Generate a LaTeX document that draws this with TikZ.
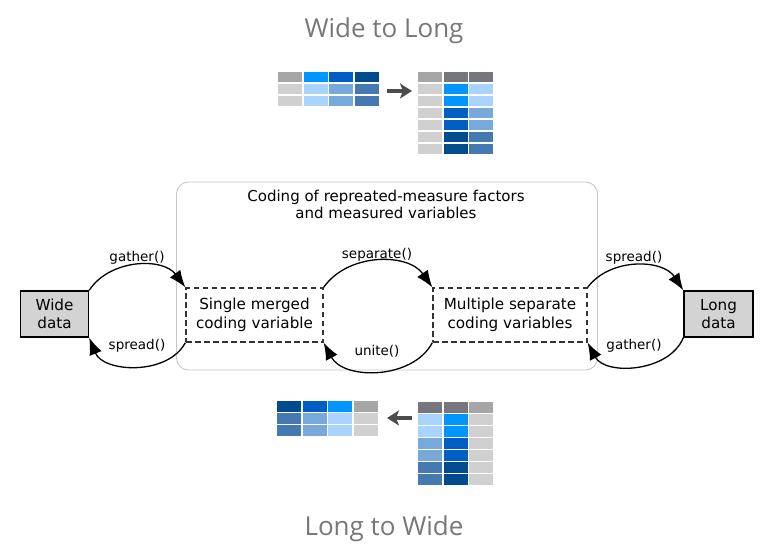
\documentclass[tikz,border=0pt]{standalone}
\usepackage{fontspec}
\setmainfont{DejaVu Sans}
\newfontfamily\titlefont{Open Sans}
\usetikzlibrary{arrows.meta}
\definecolor{hg}{HTML}{A6A6A6}
\definecolor{hd}{HTML}{76767E}
\definecolor{lg}{HTML}{D0D0D0}
\definecolor{bA}{HTML}{0095FF}
\definecolor{bB}{HTML}{005EC4}
\definecolor{bC}{HTML}{004B8D}
\definecolor{lA}{HTML}{A8D4FF}
\definecolor{lB}{HTML}{77A9DB}
\definecolor{lC}{HTML}{4479B1}
\definecolor{titlegray}{HTML}{777777}
\definecolor{boxgray}{HTML}{D3D3D3}
\newcommand\tabrow[3]{\foreach \c [count=\i from 0] in {#3} {\fill[\c] (#1+\i*25.5,#2) rectangle ++(24,10.5);}}
\begin{document}
\begin{tikzpicture}[x=1pt,y=-1pt,
  datanode/.style={draw=black, line width=1.4pt, fill=boxgray, minimum width=68pt, minimum height=46pt, inner sep=0pt, align=center, font=\fontsize{15.2}{18.5}\selectfont},
  codenode/.style={draw=black!80, dash pattern=on 5.5pt off 3.5pt, line width=1.3pt, minimum height=54pt, inner sep=0pt, align=center, font=\fontsize{15.2}{18.5}\selectfont},
  flow/.style={line width=1.3pt, -{Latex[length=17pt,width=13pt]}},
  fnlabel/.style={font=\fontsize{13.5}{16}\selectfont, inner sep=0pt},
  tabarrow/.style={line width=3.5pt, draw=black!70, -{Stealth[length=12pt,width=15pt,inset=3pt]}},
  title/.style={font=\titlefont\fontsize{26}{30}\selectfont, text=titlegray}]
\useasboundingbox (0,0) rectangle (763,556);
% titles
\node[title] (t1) at (384,31) {Wide to Long};
\node[title] (t2) at (384,529) {Long to Wide};
% top tables
\tabrow{278}{72}{hg,bA,bB,bC}
\tabrow{278}{84}{lg,lA,lB,lC}
\tabrow{278}{96}{lg,lA,lB,lC}
\tabrow{418}{72}{hg,hd,hd}
\tabrow{418}{84}{lg,bA,lA}
\tabrow{418}{96}{lg,bA,lA}
\tabrow{418}{108}{lg,bB,lB}
\tabrow{418}{120}{lg,bB,lB}
\tabrow{418}{132}{lg,bC,lC}
\tabrow{418}{144}{lg,bC,lC}
\coordinate (ta1) at (387,91);
\coordinate (ta2) at (412,91);
\draw[tabarrow] (ta1) -- (ta2);
% bottom tables
\tabrow{277}{401}{bC,bB,bA,hg}
\tabrow{277}{413}{lC,lB,lA,lg}
\tabrow{277}{425}{lC,lB,lA,lg}
\tabrow{418}{402}{hd,hd,hg}
\tabrow{418}{414}{lA,bA,lg}
\tabrow{418}{426}{lA,bA,lg}
\tabrow{418}{438}{lB,bB,lg}
\tabrow{418}{450}{lB,bB,lg}
\tabrow{418}{462}{lC,bC,lg}
\tabrow{418}{474}{lC,bC,lg}
\coordinate (tb1) at (412,418);
\coordinate (tb2) at (387,418);
\draw[tabarrow] (tb1) -- (tb2);
% container
\node[draw=black!22, line width=0.9pt, rounded corners=12pt, minimum width=421pt, minimum height=188pt] (cont) at (387,276) {};
\node[align=center, font=\fontsize{15}{17.5}\selectfont] (conttext) at (386,204.5) {Coding of repreated-measure factors\\and measured variables};
% nodes
\node[datanode] (wide) at (54.5,314) {Wide\\data};
\node[datanode, minimum width=69pt] (long) at (718.5,314) {Long\\data};
\node[codenode, minimum width=137pt] (single) at (254.5,315) {Single merged\\coding variable};
\node[codenode, minimum width=154pt] (multi) at (510,315) {Multiple separate\\coding variables};
% arcs
\draw[flow] (wide.north east) to[bend left=55] (single.north west);
\draw[flow] (single.south west) to[bend left=65] (wide.south east);
\draw[flow] (single.north east) to[bend left=55] (multi.north west);
\draw[flow] (multi.south west) to[bend left=62] (single.south east);
\draw[flow] (multi.north east) to[bend left=55] (long.north west);
\draw[flow] (long.south west) to[bend left=65] (multi.south east);
% labels
\node[fnlabel] (l1) at (137,258) {gather()};
\node[fnlabel] (l2) at (137,346) {spread()};
\node[fnlabel] (l3) at (377,255) {separate()};
\node[fnlabel] (l4) at (377,351) {unite()};
\node[fnlabel] (l5) at (634,258) {spread()};
\node[fnlabel] (l6) at (634,346) {gather()};
\end{tikzpicture}
\end{document}
